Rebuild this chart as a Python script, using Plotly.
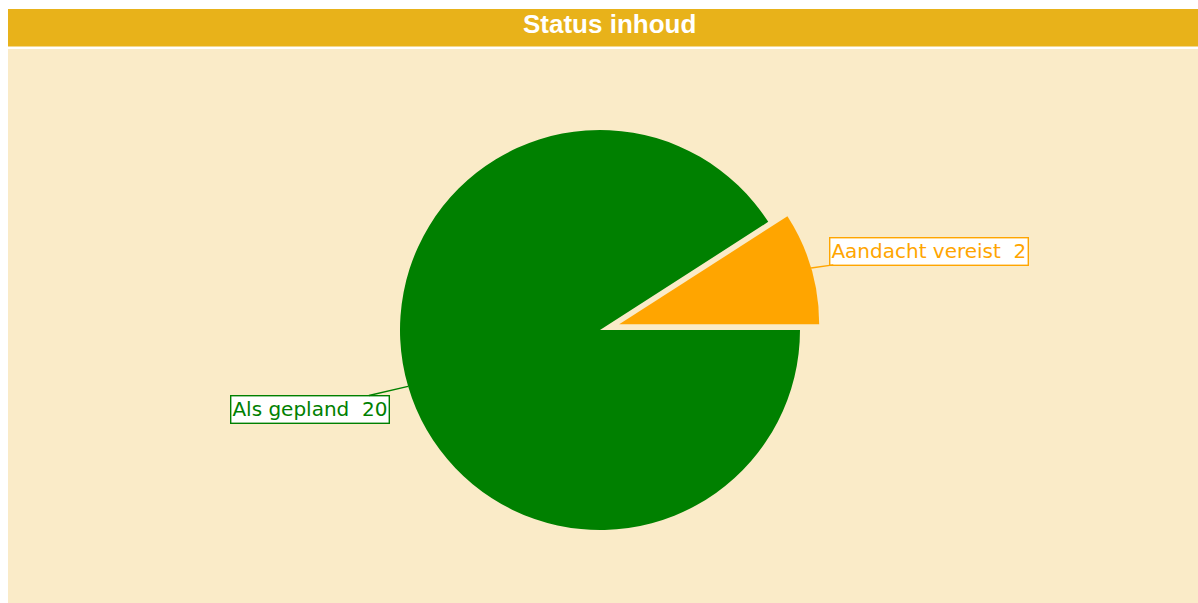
import math
import plotly.graph_objects as go

# ---- data ----
labels = ["Aandacht vereist", "Als gepland"]
values = [2, 20]
colors = ["#FFA500", "#008000"]
pulls = [0.1, 0.0]
title_text = "Status inhoud"

# ---- layout constants (pixels, page coordinates; body margin removed) ----
W, H = 1198, 603
CX, CY, R = 600, 330, 200
max_pull = max(pulls)
half = R * (1 + max_pull)

dom_x = [(CX - half) / W, (CX + half) / W]
dom_y = [(H - CY - half) / H, (H - CY + half) / H]

total = sum(values)
first_deg = 360 * values[0] / total

fig = go.Figure(go.Pie(
    labels=labels, values=values, sort=False, direction="counterclockwise",
    rotation=90 - first_deg, pull=pulls, textinfo="none", hoverinfo="label+value",
    marker=dict(colors=colors, line=dict(width=0)),
    domain=dict(x=dom_x, y=dom_y), showlegend=False,
))

# label annotations attached to slice mid-angles
offsets = [(118, -17), (-98, 23)]
start = 0.0
annotations = []
for lab, val, col, pl, (ax, ay) in zip(labels, values, colors, pulls, offsets):
    frac = val / total
    mid = (start + frac / 2) * 2 * math.pi
    start += frac
    cx = CX + pl * R * math.cos(mid)
    cy = CY - pl * R * math.sin(mid)
    px = cx + R * math.cos(mid)
    py = cy - R * math.sin(mid)
    annotations.append(dict(
        x=px / W, y=1 - py / H, xref="paper", yref="paper",
        text=f"{lab}  {val}", showarrow=True, arrowhead=0, arrowwidth=1.4,
        arrowcolor=col, ax=ax, ay=ay, standoff=0,
        font=dict(family="DejaVu Sans", size=20, color=col),
        bgcolor="white", bordercolor=col, borderwidth=1.4, borderpad=1,
    ))

annotations.append(dict(
    x=609 / W, y=1 - 24 / H, xref="paper", yref="paper",
    text=f"<b>{title_text}</b>", showarrow=False,
    font=dict(family="Liberation Sans, Arial", size=26, color="white"),
    xanchor="center", yanchor="middle",
))

shapes = [
    dict(type="rect", xref="paper", yref="paper", x0=8 / W, x1=1, y0=1 - 46.5 / H, y1=1 - 9 / H,
         fillcolor="#E8B21A", line=dict(width=0), layer="below"),
    dict(type="rect", xref="paper", yref="paper", x0=8 / W, x1=1, y0=0, y1=1 - 49 / H,
         fillcolor="#FAEBC8", line=dict(width=0), layer="below"),
]

fig.update_layout(
    width=W, height=H, margin=dict(l=0, r=0, t=0, b=0),
    paper_bgcolor="white", plot_bgcolor="white",
    shapes=shapes, annotations=annotations,
)

fig.write_html(
    "out.html",
    config={"displayModeBar": False},
    post_script=("document.body.style.margin='0';"
                 "document.documentElement.style.overflow='hidden';"
                 "document.body.style.overflow='hidden';"),
)
